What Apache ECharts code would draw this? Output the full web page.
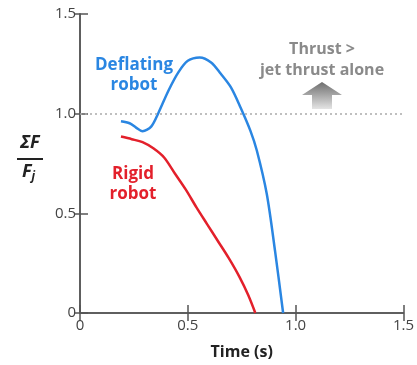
<!DOCTYPE html>
<html>
<head>
<meta charset="utf-8">
<script src="https://cdn.jsdelivr.net/npm/echarts@6/dist/echarts.min.js"></script>
<style>
  html, body { margin: 0; padding: 0; background: #fff; }
  #chart { width: 417px; height: 365px; }
</style>
</head>
<body>
<div id="chart"></div>
<script>
// values
const xTicks = [0, 0.5, 1.0, 1.5]
const yTicks = [0, 0.5, 1.0, 1.5]
const deflating = [
  [0.19, 0.962], [0.23, 0.952], [0.26, 0.93], [0.29, 0.912], [0.33, 0.935],
  [0.365, 1.007], [0.41, 1.115], [0.456, 1.207], [0.50, 1.265], [0.555, 1.282],
  [0.608, 1.257], [0.653, 1.2], [0.70, 1.132], [0.745, 1.03], [0.79, 0.915],
  [0.82, 0.815], [0.866, 0.598], [0.904, 0.315], [0.942, 0.0]
]
const rigid = [
  [0.19, 0.885], [0.24, 0.872], [0.29, 0.857], [0.34, 0.826], [0.39, 0.78],
  [0.44, 0.70], [0.49, 0.62], [0.54, 0.53], [0.59, 0.445], [0.64, 0.36],
  [0.69, 0.275], [0.74, 0.18], [0.78, 0.09], [0.813, 0.0]
]
const threshold = 1.0

const axisGrey = '#555'
const textGrey = '#444'
const blue = '#2a86e2'
const red = '#e3202b'

const chart = echarts.init(document.getElementById('chart'))

const tickFmt = v => (v === 0 ? '0' : v.toFixed(1))

chart.setOption({
  animation: false,
  grid: { left: 80, right: 8, top: 14, bottom: 52 },
  xAxis: [
    {
      type: 'value', min: 0, max: 1.5, interval: 0.5,
      axisLine: { show: true, lineStyle: { color: axisGrey, width: 1.5 } },
      axisTick: { show: true, inside: true, length: 8, lineStyle: { color: axisGrey, width: 1.5 } },
      axisLabel: {
        color: textGrey, fontFamily: 'Open Sans', fontSize: 15, margin: 5,
        formatter: tickFmt, showMinLabel: true, showMaxLabel: true,
        alignMinLabel: 'center', alignMaxLabel: 'center'
      },
      splitLine: { show: false },
      name: 'Time (s)', nameLocation: 'middle', nameGap: 31,
      nameTextStyle: { color: '#222', fontFamily: 'Open Sans', fontWeight: 'bold', fontSize: 16 }
    },
    {
      type: 'value', min: 0, max: 1.5, interval: 0.5, position: 'top',
      axisLine: { show: true, lineStyle: { color: axisGrey, width: 1.5 } },
      axisTick: { show: true, inside: true, length: 8, lineStyle: { color: axisGrey, width: 1.5 } },
      axisLabel: { show: false }, splitLine: { show: false }
    }
  ],
  yAxis: [
    {
      type: 'value', min: 0, max: 1.5, interval: 0.5,
      axisLine: { show: true, lineStyle: { color: axisGrey, width: 1.5 } },
      axisTick: { show: true, inside: true, length: 8, lineStyle: { color: axisGrey, width: 1.5 } },
      axisLabel: { color: textGrey, fontFamily: 'Open Sans', fontSize: 15, margin: 4, formatter: tickFmt },
      splitLine: { show: false }
    },
    {
      type: 'value', min: 0, max: 1.5, interval: 0.5, position: 'right',
      axisLine: { show: true, lineStyle: { color: axisGrey, width: 1.5 } },
      axisTick: { show: true, inside: true, length: 6, lineStyle: { color: axisGrey, width: 1.5 } },
      axisLabel: { show: false }, splitLine: { show: false }
    }
  ],
  series: [
    {
      name: 'Deflating robot', type: 'line', data: deflating, smooth: 0.3,
      showSymbol: false, lineStyle: { color: blue, width: 2.5 },
      markLine: {
        silent: true, symbol: 'none', label: { show: false },
        lineStyle: { color: '#aaa', type: [2, 3], width: 1.5 },
        data: [{ yAxis: threshold }]
      },
      z: 3
    },
    {
      name: 'Rigid robot', type: 'line', data: rigid, smooth: 0.3,
      showSymbol: false, lineStyle: { color: red, width: 2.5 }, z: 3
    }
  ],
  graphic: [
    {
      type: 'text', x: 134, y: 55,
      style: {
        text: 'Deflating\nrobot', fill: blue, font: 'bold 17px "Open Sans"',
        align: 'center', lineHeight: 20
      }
    },
    {
      type: 'text', x: 133, y: 164,
      style: {
        text: 'Rigid\nrobot', fill: red, font: 'bold 17px "Open Sans"',
        align: 'center', lineHeight: 20
      }
    },
    {
      type: 'text', x: 322, y: 39,
      style: {
        text: 'Thrust >\njet thrust alone', fill: '#8a8a8a', font: 'bold 16px "Open Sans"',
        align: 'center', lineHeight: 21
      }
    },
    {
      type: 'polygon', x: 302, y: 82,
      shape: { points: [[0, 13], [20, 0], [40, 13], [30, 13], [30, 27], [10, 27], [10, 13]] },
      style: {
        fill: new echarts.graphic.LinearGradient(0, 0, 0, 1, [
          { offset: 0, color: '#6e6e6e' }, { offset: 1, color: '#e4e4e4' }
        ])
      }
    },
    {
      type: 'text', x: 30, y: 134,
      style: { text: 'ΣF', fill: '#222', font: 'italic bold 18px "Open Sans"', align: 'center' }
    },
    {
      type: 'rect', x: 17, y: 158,
      shape: { width: 26, height: 2 }, style: { fill: '#222' }
    },
    {
      type: 'text', x: 22, y: 161,
      style: {
        text: '{f|F}{j|j}',
        rich: {
          f: { fill: '#222', font: 'italic bold 18px "Open Sans"' },
          j: { fill: '#222', font: 'italic bold 12px "Open Sans"', padding: [10, 0, 0, 0] }
        }
      }
    }
  ]
})
</script>
</body>
</html>
